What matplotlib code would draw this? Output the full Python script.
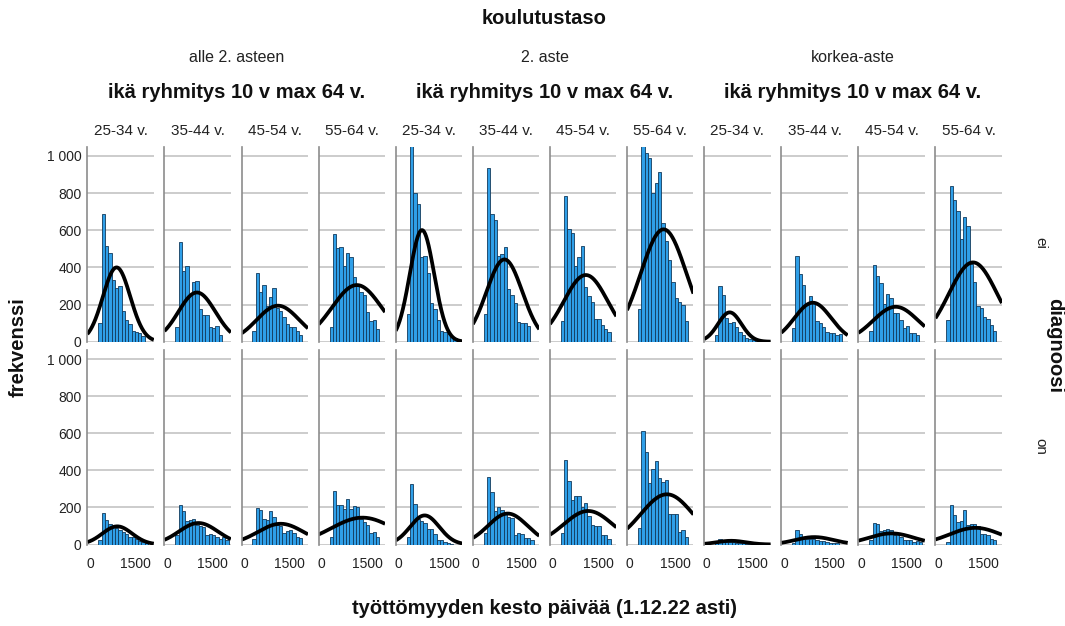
import numpy as np
import matplotlib
matplotlib.use("Agg")
import matplotlib.pyplot as plt

plt.rcParams['font.family'] = ['Liberation Sans', 'DejaVu Sans']

# ---------------- data ----------------
education = ["alle 2. asteen", "2. aste", "korkea-aste"]
age_groups = ["25-34 v.", "35-44 v.", "45-54 v.", "55-64 v."]
diagnosis = ["ei", "on"]
bin_edges = np.linspace(270, 2020, 17)
y_ticks = [0, 200, 400, 600, 800, 1000]
y_tick_labels = ["0", "200", "400", "600", "800", "1 000"]
x_ticks = [0, 1500]

# counts per bin, diagnosis "ei"
ei_alle = [
    [100, 690, 515, 480, 330, 290, 300, 165, 115, 95, 55, 50, 45, 30, 0, 0],
    [77, 535, 380, 407, 250, 320, 325, 175, 145, 145, 80, 72, 85, 35, 0, 0],
    [57, 370, 270, 305, 190, 240, 290, 180, 165, 135, 95, 80, 78, 60, 35, 0],
    [77, 580, 506, 511, 407, 475, 454, 346, 300, 270, 250, 160, 110, 117, 68, 0],
]
ei_toinen = [
    [149, 1080, 798, 741, 454, 461, 371, 206, 176, 117, 60, 50, 40, 30, 20, 0],
    [147, 936, 687, 655, 460, 470, 511, 282, 251, 206, 108, 99, 99, 84, 0, 0],
    [111, 784, 608, 587, 407, 454, 517, 296, 248, 215, 122, 122, 90, 68, 50, 0],
    [174, 1080, 1017, 987, 798, 856, 915, 637, 542, 440, 323, 233, 215, 197, 113, 0],
]
ei_korkea = [
    [36, 300, 251, 130, 100, 108, 77, 54, 36, 18, 13, 8, 5, 0, 0, 0],
    [72, 463, 364, 303, 200, 246, 210, 111, 102, 77, 54, 45, 45, 36, 40, 0],
    [57, 413, 353, 314, 203, 255, 233, 152, 152, 117, 75, 86, 48, 45, 36, 0],
    [117, 840, 762, 705, 553, 670, 624, 420, 323, 190, 183, 135, 120, 90, 60, 0],
]
# counts per bin, diagnosis "on"
on_alle = [
    [25, 170, 130, 110, 95, 90, 80, 65, 55, 40, 38, 28, 20, 15, 10, 0],
    [52, 212, 181, 127, 134, 139, 105, 100, 94, 49, 58, 52, 40, 30, 40, 25],
    [27, 197, 188, 139, 134, 181, 148, 103, 98, 62, 72, 80, 62, 40, 35, 0],
    [40, 288, 215, 212, 194, 244, 194, 206, 203, 139, 121, 103, 62, 68, 43, 0],
]
on_toinen = [
    [40, 326, 221, 140, 125, 118, 81, 83, 55, 22, 22, 15, 10, 5, 0, 0],
    [62, 366, 281, 181, 203, 188, 167, 148, 145, 52, 63, 58, 34, 36, 22, 0],
    [62, 456, 344, 239, 261, 263, 203, 224, 152, 103, 100, 100, 49, 52, 30, 0],
    [90, 614, 500, 333, 405, 452, 357, 338, 348, 167, 167, 163, 67, 76, 40, 0],
]
on_korkea = [
    [8, 27, 25, 15, 15, 12, 10, 8, 6, 5, 3, 2, 0, 0, 0, 0],
    [10, 76, 54, 30, 28, 30, 28, 25, 20, 18, 12, 10, 8, 6, 0, 0],
    [22, 116, 109, 72, 76, 81, 76, 49, 58, 40, 22, 25, 25, 14, 20, 12],
    [13, 212, 161, 121, 127, 185, 103, 112, 110, 98, 58, 54, 52, 31, 25, 0],
]

# fitted normal curves (mean, sd, peak height)
ei_mean = [874, 980, 1110, 1168, 775, 950, 1092, 1114, 753, 950, 1140, 1147]
ei_sd = [450, 610, 700, 815, 400, 590, 723, 754, 383, 605, 740, 791]
ei_peak = [400, 265, 194, 305, 601, 443, 359, 605, 158, 210, 188, 427]
on_mean = [895, 1030, 1200, 1354, 863, 1060, 1170, 1223, 800, 1000, 1000, 1223]
on_sd = [487, 640, 750, 1026, 480, 650, 800, 861, 480, 630, 745, 846]
on_peak = [98, 116, 112, 145, 157, 167, 181, 271, 20, 40, 60, 90]

# ---------------- layout ----------------
W, H = 1065, 626
fig = plt.figure(figsize=(W / 100, H / 100), dpi=100)

def fx(px):
    return px / W

def fy(py):
    return 1 - py / H

PANEL_LEFT0 = 87.3
PANEL_PITCH = 77.1
PANEL_W = 66.5
ROW_TOPS = [146.7, 350.0]
ROW_BOTTOMS = [341.7, 544.5]
XLIM = (-88, 2096)
YLIM = (0, 1050)

BAR_COLOR = "#2f9fe8"
BAR_EDGE = "#123a5c"
GRID_COLOR = "#cccccc"
AXIS_COLOR = "#8c8c8c"

rows = [
    (ei_alle + ei_toinen + ei_korkea, ei_mean, ei_sd, ei_peak),
    (on_alle + on_toinen + on_korkea, on_mean, on_sd, on_peak),
]

edges = np.asarray(bin_edges)
widths = np.diff(edges)
xs = np.linspace(XLIM[0], XLIM[1], 300)

for r, (counts_list, means, sds, peaks) in enumerate(rows):
    top, bot = ROW_TOPS[r], ROW_BOTTOMS[r]
    for c in range(12):
        left = PANEL_LEFT0 + c * PANEL_PITCH
        ax = fig.add_axes([fx(left), fy(bot), PANEL_W / W, (bot - top) / H])
        ax.set_xlim(*XLIM)
        ax.set_ylim(*YLIM)
        ax.set_axisbelow(True)
        ax.yaxis.grid(True, color=GRID_COLOR, linewidth=1.4)
        ax.set_yticks(y_ticks)
        ax.set_xticks(x_ticks)
        for s in ["top", "right", "bottom"]:
            ax.spines[s].set_visible(False)
        ax.spines["left"].set_color(AXIS_COLOR)
        ax.spines["left"].set_linewidth(1.2)
        ax.tick_params(axis="y", length=0, labelsize=10, colors="#222222", pad=4)
        ax.tick_params(axis="x", length=0, labelsize=10, colors="#222222", pad=9)
        if c == 0:
            ax.set_yticklabels(y_tick_labels)
        else:
            ax.set_yticklabels([])
        if r == 1:
            ax.set_xticklabels([str(t) for t in x_ticks])
        else:
            ax.set_xticklabels([])
        ax.bar(edges[:-1], counts_list[c], width=widths, align="edge",
               color=BAR_COLOR, edgecolor=BAR_EDGE, linewidth=0.6)
        ys = peaks[c] * np.exp(-0.5 * ((xs - means[c]) / sds[c]) ** 2)
        ax.plot(xs, ys, color="black", linewidth=2.7, solid_capstyle="butt")

# ---------------- texts ----------------
title_kw = dict(fontsize=14.5, fontweight="bold", color="#111111")
fig.text(fx(544), fy(18), "koulutustaso", ha="center", va="center", **title_kw)
for g in range(3):
    gl = PANEL_LEFT0 + g * 4 * PANEL_PITCH
    gr = PANEL_LEFT0 + (g * 4 + 3) * PANEL_PITCH + PANEL_W
    gc = (gl + gr) / 2
    fig.text(fx(gc), fy(57), education[g], ha="center", va="center",
             fontsize=11.5, color="#222222")
    fig.text(fx(gc), fy(93), "ikä ryhmitys 10 v max 64 v.", ha="center",
             va="center", **title_kw)
    for a in range(4):
        c = g * 4 + a
        pc = PANEL_LEFT0 + c * PANEL_PITCH + PANEL_W / 2
        fig.text(fx(pc), fy(131), age_groups[a], ha="center", va="center",
                 fontsize=11, color="#222222")

fig.text(fx(18), fy(347), "frekvenssi", rotation=90, ha="center", va="center",
         **title_kw)
fig.text(fx(1055), fy(345), "diagnoosi", rotation=-90, ha="center", va="center",
         **title_kw)
fig.text(fx(1040), fy(243), diagnosis[0], rotation=-90, ha="center", va="center",
         fontsize=11, color="#222222")
fig.text(fx(1040), fy(446), diagnosis[1], rotation=-90, ha="center", va="center",
         fontsize=11, color="#222222")
fig.text(fx(545), fy(608), "työttömyyden kesto päivää (1.12.22 asti)",
         ha="center", va="center", **title_kw)

fig.savefig("out.png", dpi=100)
